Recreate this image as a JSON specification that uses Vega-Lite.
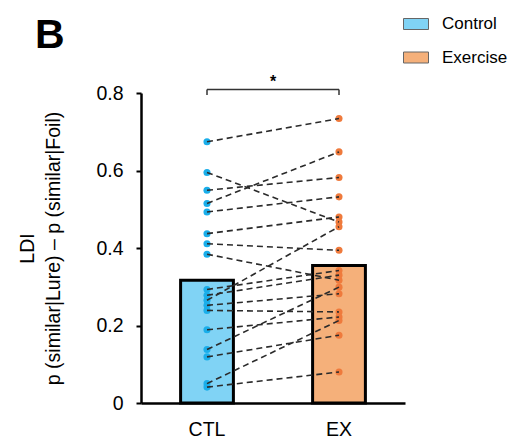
{
  "$schema": "https://vega.github.io/schema/vega-lite/v6.json",
  "width": 264,
  "height": 310,
  "autosize": {"type": "none"},
  "padding": {"left": 141, "top": 93, "right": 110, "bottom": 41},
  "background": "white",
  "config": {
    "view": {"stroke": null},
    "font": "Liberation Sans",
    "title": {"offset": -78}
  },
  "title": {
    "text": "B",
    "fontSize": 41,
    "fontWeight": "bold",
    "font": "Liberation Sans",
    "anchor": "start",
    "frame": "group",
    "orient": "top",
    "dx": -106,
    "dy": 0,
    "baseline": "alphabetic",
    "offset": -78,
    "color": "black"
  },
  "datasets": {
    "bars": [
      {"group": "CTL", "condition": "Control", "value": 0.317},
      {"group": "EX", "condition": "Exercise", "value": 0.355}
    ],
    "subjects": [
      {"id": 1, "group": "CTL", "value": 0.674}, {"id": 1, "group": "EX", "value": 0.734},
      {"id": 2, "group": "CTL", "value": 0.595}, {"id": 2, "group": "EX", "value": 0.467},
      {"id": 3, "group": "CTL", "value": 0.549}, {"id": 3, "group": "EX", "value": 0.582},
      {"id": 4, "group": "CTL", "value": 0.515}, {"id": 4, "group": "EX", "value": 0.648},
      {"id": 5, "group": "CTL", "value": 0.493}, {"id": 5, "group": "EX", "value": 0.532},
      {"id": 6, "group": "CTL", "value": 0.437}, {"id": 6, "group": "EX", "value": 0.480},
      {"id": 7, "group": "CTL", "value": 0.411}, {"id": 7, "group": "EX", "value": 0.394},
      {"id": 8, "group": "CTL", "value": 0.384}, {"id": 8, "group": "EX", "value": 0.317},
      {"id": 9, "group": "CTL", "value": 0.293}, {"id": 9, "group": "EX", "value": 0.342},
      {"id": 10, "group": "CTL", "value": 0.278}, {"id": 10, "group": "EX", "value": 0.330},
      {"id": 11, "group": "CTL", "value": 0.265}, {"id": 11, "group": "EX", "value": 0.455},
      {"id": 12, "group": "CTL", "value": 0.252}, {"id": 12, "group": "EX", "value": 0.282},
      {"id": 13, "group": "CTL", "value": 0.239}, {"id": 13, "group": "EX", "value": 0.235},
      {"id": 14, "group": "CTL", "value": 0.189}, {"id": 14, "group": "EX", "value": 0.222},
      {"id": 15, "group": "CTL", "value": 0.138}, {"id": 15, "group": "EX", "value": 0.299},
      {"id": 16, "group": "CTL", "value": 0.119}, {"id": 16, "group": "EX", "value": 0.175},
      {"id": 17, "group": "CTL", "value": 0.050}, {"id": 17, "group": "EX", "value": 0.213},
      {"id": 18, "group": "CTL", "value": 0.041}, {"id": 18, "group": "EX", "value": 0.080}
    ],
    "bracket": [
      {"from": "CTL", "to": "EX", "top": 0.809, "label": "*"}
    ],
    "bracketEnds": [
      {"group": "CTL", "top": 0.809, "bottom": 0.795},
      {"group": "EX", "top": 0.809, "bottom": 0.795}
    ]
  },
  "encoding": {
    "x": {
      "field": "group",
      "type": "nominal",
      "sort": ["CTL", "EX"],
      "scale": {"domain": ["CTL", "EX"], "paddingInner": 0.6, "paddingOuter": 0.3},
      "axis": {
        "title": null,
        "labelAngle": 0,
        "labelFontSize": 19.5,
        "labelColor": "black",
        "labelFont": "Liberation Sans",
        "labelBaseline": "top",
        "labelPadding": 17,
        "ticks": false,
        "domainColor": "black",
        "domainWidth": 2.5
      }
    }
  },
  "layer": [
    {
      "data": {"name": "bars"},
      "mark": {"type": "bar", "stroke": "black", "strokeWidth": 3},
      "encoding": {
        "y": {
          "field": "value",
          "type": "quantitative",
          "scale": {"domain": [0, 0.8], "nice": false, "zero": true},
          "axis": {
            "values": [0, 0.2, 0.4, 0.6, 0.8],
            "format": ".1~f",
            "grid": false,
            "labelFontSize": 19.5,
            "labelColor": "black",
            "labelFont": "Liberation Sans",
            "labelPadding": 13,
            "tickSize": 5,
            "tickWidth": 2,
            "tickColor": "black",
            "domainColor": "black",
            "domainWidth": 2.5,
            "title": ["LDI", "p (similar|Lure) – p (similar|Foil)"],
            "titleFont": "Liberation Sans",
            "titleFontSize": 19.5,
            "titleFontWeight": "normal",
            "titleColor": "black",
            "titleLineHeight": 26,
            "titleAngle": -90,
            "titleAlign": "center",
            "titleBaseline": "alphabetic",
            "titleX": -108,
            "titleY": 155
          }
        },
        "fill": {
          "field": "condition",
          "type": "nominal",
          "scale": {"domain": ["Control", "Exercise"], "range": ["#80d3f5", "#f5b07a"]},
          "legend": {
            "title": null,
            "orient": "none",
            "legendX": 262,
            "legendY": -82,
            "symbolType": "M-1,-0.44H1V0.44H-1Z",
            "symbolSize": 625,
            "symbolStrokeColor": "#666666",
            "symbolStrokeWidth": 1,
            "symbolOpacity": 1,
            "labelFontSize": 17,
            "labelFont": "Liberation Sans",
            "labelColor": "black",
            "labelOffset": 13,
            "rowPadding": 12.5,
            "encode": {
              "symbols": {
                "update": {
                  "fill": {"signal": "datum.label === 'Control' ? '#6dcdf5' : '#f7941d'"},
                  "stroke": {"value": "#666666"}
                }
              }
            }
          }
        }
      }
    },
    {
      "data": {"name": "subjects"},
      "mark": {"type": "point", "filled": true, "size": 50, "opacity": 1},
      "encoding": {
        "y": {"field": "value", "type": "quantitative"},
        "color": {
          "field": "group",
          "type": "nominal",
          "scale": {"domain": ["CTL", "EX"], "range": ["#1aaeea", "#ef7a3c"]},
          "legend": null
        }
      }
    },
    {
      "data": {"name": "subjects"},
      "mark": {"type": "line", "color": "#2b2b2b", "strokeWidth": 1.6, "strokeDash": [6, 4]},
      "encoding": {
        "y": {"field": "value", "type": "quantitative"},
        "detail": {"field": "id", "type": "nominal"}
      }
    },
    {
      "data": {"name": "bracket"},
      "mark": {"type": "rule", "color": "#333333", "strokeWidth": 1.5},
      "encoding": {
        "x": {"field": "from", "type": "nominal"},
        "x2": {"field": "to"},
        "y": {"field": "top", "type": "quantitative"}
      }
    },
    {
      "data": {"name": "bracketEnds"},
      "mark": {"type": "rule", "color": "#333333", "strokeWidth": 1.5},
      "encoding": {
        "y": {"field": "top", "type": "quantitative"},
        "y2": {"field": "bottom"}
      }
    },
    {
      "data": {"name": "bracket"},
      "mark": {"type": "text", "fontSize": 16, "fontWeight": "bold", "color": "black", "baseline": "middle", "align": "center"},
      "encoding": {
        "x": {"field": "from", "type": "nominal", "bandPosition": 1.75},
        "y": {"field": "top", "type": "quantitative"},
        "text": {"field": "label"},
        "yOffset": {"value": -8}
      }
    }
  ]
}
